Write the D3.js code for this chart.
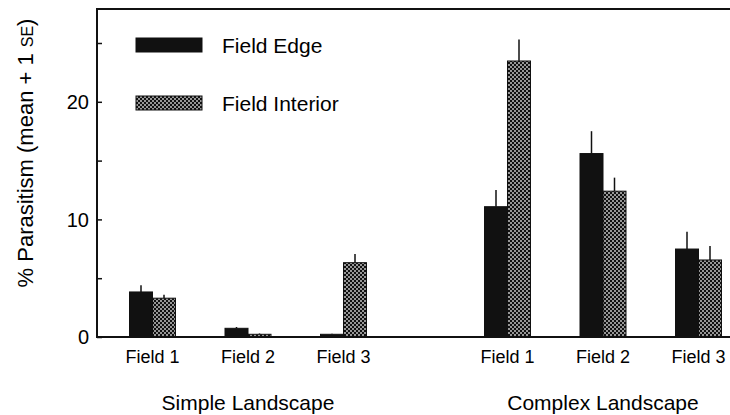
<!DOCTYPE html>
<html><head><meta charset="utf-8">
<script src="https://cdn.jsdelivr.net/npm/d3@7"></script>
<style>
html,body{margin:0;padding:0;background:#fff;}
text{font-family:"Liberation Sans",Arial,Helvetica,sans-serif;fill:#000;}
</style></head>
<body><svg id="c" width="730" height="415"></svg>
<script>
// ---- data ----
const landscapes = ["Simple Landscape", "Complex Landscape"];
const fields = ["Field 1", "Field 2", "Field 3"];
const seriesNames = ["Field Edge", "Field Interior"];
// means, in order: Simple F1..F3, Complex F1..F3
const edgeMean = [3.83, 0.74, 0.23, 11.08, 15.6, 7.48];
const edgeSE = [0.57, 0.11, 0.05, 1.42, 1.9, 1.47];
const interiorMean = [3.3, 0.23, 6.32, 23.47, 12.4, 6.55];
const interiorSE = [0.3, 0.07, 0.74, 1.83, 1.15, 1.19];
const yTicks = [0, 5, 10, 15, 20, 25];
const yTickLabels = [0, 10, 20];

// ---- layout ----
const W = 730, H = 415;
const mLeft = 97, mTop = 9, mBottom = 337;
const svg = d3.select("#c");

const defs = svg.append("defs");
const pat = defs.append("pattern").attr("id", "dots").attr("patternUnits", "userSpaceOnUse")
  .attr("width", 4).attr("height", 4);
pat.append("rect").attr("width", 4).attr("height", 4).attr("fill", "#111");
pat.append("rect").attr("x", 0.25).attr("y", 0.25).attr("width", 1.5).attr("height", 1.5).attr("fill", "#fff");
pat.append("rect").attr("x", 2.25).attr("y", 2.25).attr("width", 1.5).attr("height", 1.5).attr("fill", "#fff");

const y = d3.scaleLinear().domain([0, 25]).range([mBottom, 43]);
const gx = d3.scalePoint().domain(landscapes).range([mLeft + 151, mLeft + 506]);
const fx = d3.scalePoint().domain(fields).range([-95.5, 95.5]);
const sx = d3.scaleBand().domain(seriesNames).range([-23, 23]);
const fill = d3.scaleOrdinal().domain(seriesNames).range(["#111", "url(#dots)"]);

const rows = [];
landscapes.forEach((L, li) => fields.forEach((F, fi) => {
  const i = li * 3 + fi;
  rows.push({L, F, s: seriesNames[0], m: edgeMean[i], se: edgeSE[i]});
  rows.push({L, F, s: seriesNames[1], m: interiorMean[i], se: interiorSE[i]});
}));
const xOf = d => gx(d.L) + fx(d.F) + sx(d.s);

// bars
svg.append("g").selectAll("rect").data(rows).join("rect")
  .attr("x", xOf).attr("width", sx.bandwidth())
  .attr("y", d => y(d.m)).attr("height", d => y(0) - y(d.m))
  .attr("fill", d => fill(d.s)).attr("stroke", "#111").attr("stroke-width", 1);

// error bars
svg.append("g").selectAll("line").data(rows).join("line")
  .attr("x1", d => xOf(d) + sx.bandwidth() / 2).attr("x2", d => xOf(d) + sx.bandwidth() / 2)
  .attr("y1", d => y(d.m)).attr("y2", d => y(d.m + d.se))
  .attr("stroke", "#111").attr("stroke-width", 1.5);

// frame
const frame = svg.append("g").attr("stroke", "#111").attr("stroke-width", 2).attr("fill", "none");
frame.append("path").attr("d", `M${W},${mTop}H${mLeft}V${mBottom}H${W}`);

// y axis ticks (inward) and labels
const yAxis = svg.append("g").attr("transform", `translate(${mLeft},0)`)
  .call(d3.axisRight(y).tickValues(yTicks).tickSize(5).tickFormat(""));
yAxis.select(".domain").remove();
yAxis.selectAll("line").attr("stroke", "#111").attr("stroke-width", 1.5);
svg.append("g").selectAll("text").data(yTickLabels).join("text")
  .attr("x", 89).attr("y", d => y(d)).attr("dy", "0.36em")
  .attr("text-anchor", "end").style("font-size", "20px").text(d => d);

// field labels
svg.append("g").selectAll("text").data(d3.cross(landscapes, fields)).join("text")
  .attr("x", d => gx(d[0]) + fx(d[1])).attr("y", 363)
  .attr("text-anchor", "middle").style("font-size", "18px").text(d => d[1]);

// landscape labels
svg.append("g").selectAll("text").data(landscapes).join("text")
  .attr("x", d => gx(d)).attr("y", 410)
  .attr("text-anchor", "middle").style("font-size", "21px").text(d => d);

// y title
const yt = svg.append("text").attr("transform", "translate(33,153) rotate(-90)")
  .attr("text-anchor", "middle").style("font-size", "22px");
yt.append("tspan").text("% Parasitism (mean + 1 ");
yt.append("tspan").style("font-size", "16px").text("SE");
yt.append("tspan").text(")");

// legend
const leg = svg.append("g").selectAll("g").data(seriesNames).join("g")
  .attr("transform", (d, i) => `translate(136,${38 + i * 58})`);
leg.append("rect").attr("width", 66).attr("height", 14)
  .attr("fill", d => fill(d)).attr("stroke", "#111").attr("stroke-width", 1);
leg.append("text").attr("x", 86).attr("y", 7).attr("dy", "0.36em")
  .style("font-size", "21px").text(d => d);
</script></body></html>
